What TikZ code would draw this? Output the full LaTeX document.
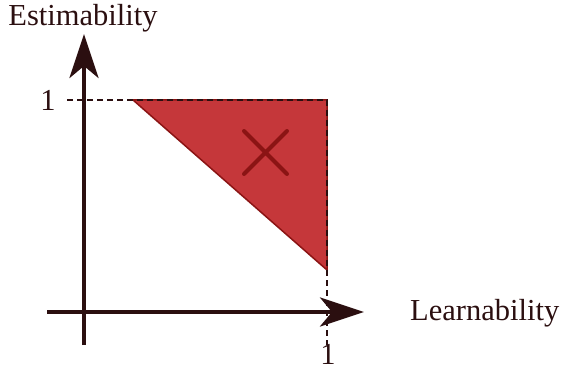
\documentclass[tikz,border=0pt]{standalone}
\usepackage{fontspec}
\setmainfont{Liberation Serif}
\usetikzlibrary{arrows.meta}
\definecolor{axisbrown}{HTML}{2B0F10}
\definecolor{regionred}{HTML}{C5373A}
\definecolor{edgered}{HTML}{8B1414}
\begin{document}
\begin{tikzpicture}[
  x=1pt, y=1pt,
  axis/.style={line width=4pt, draw=axisbrown, -{Stealth[length=44pt,width=29pt,inset=12pt]}},
  guide/.style={draw=axisbrown, line width=1.3pt, dash pattern=on 6pt off 4pt},
  label/.style={font=\fontsize{30.5}{32}\selectfont, text=axisbrown, inner sep=0pt}
]
\useasboundingbox (0,0) rectangle (569,370);
% axes
\coordinate (xs) at (47,58);
\coordinate (xe) at (364,58);
\coordinate (ys) at (84,25);
\coordinate (ye) at (84,336);
% corners of the region
\coordinate (c1) at (133,270);
\coordinate (c2) at (327,270);
\coordinate (c3) at (327,100);
\coordinate (gl) at (67,270);
\coordinate (gb) at (327,25);
\node[label] (ylab) at (83,352) {Estimability};
\node[label, anchor=west] (xlab) at (410,57) {Learnability};
\node[label] (yone) at (48,270) {1};
\node[label] (xone) at (328,16) {1};

\filldraw[fill=regionred, draw=edgered, line width=1.5pt, line join=round] (c1) -- (c2) -- (c3) -- cycle;
\draw[guide] (gl) -- (c2) -- (gb);
\draw[edgered, line width=4pt, line cap=round] (244,196) -- (287,239) (244,239) -- (287,196);
\draw[axis] (xs) -- (xe);
\draw[axis] (ys) -- (ye);
\end{tikzpicture}
\end{document}
